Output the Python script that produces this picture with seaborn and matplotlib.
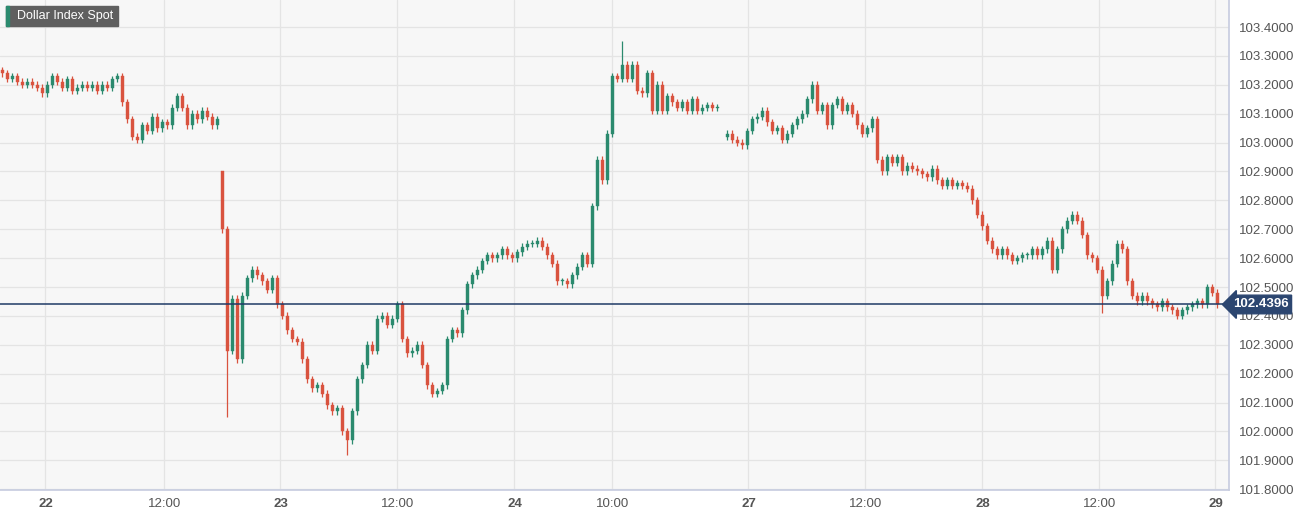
import matplotlib
matplotlib.use("Agg")
import matplotlib.pyplot as plt
import numpy as np
import pandas as pd
import seaborn as sns

# closes, one candle per 5 px slot
session1_close = [
    103.24, 103.22, 103.23, 103.21, 103.20, 103.21, 103.20, 103.19, 103.17,
    103.20, 103.23, 103.21, 103.19, 103.22, 103.18, 103.19, 103.20,
    103.19, 103.20, 103.18, 103.20, 103.19, 103.22, 103.23,
    103.14, 103.08, 103.02,
    103.01, 103.06, 103.04, 103.09, 103.05, 103.07, 103.06, 103.12,
    103.16, 103.12, 103.06, 103.10, 103.08, 103.11, 103.09, 103.06, 103.08,
]
session2_close = [
    102.70, 102.28, 102.46, 102.25, 102.47, 102.53, 102.56, 102.54, 102.52, 102.49,
    102.53, 102.44, 102.40, 102.35, 102.32, 102.31, 102.25, 102.18, 102.15, 102.16,
    102.13, 102.09, 102.07, 102.08, 102.00, 101.97, 102.07, 102.18, 102.23, 102.30,
    102.28, 102.39, 102.40, 102.37, 102.39, 102.44, 102.32, 102.27, 102.28, 102.30,
    102.23, 102.16, 102.13, 102.14, 102.16, 102.32, 102.35, 102.34, 102.42, 102.51,
    102.54, 102.56, 102.59, 102.61, 102.60, 102.61, 102.63, 102.61, 102.60, 102.62,
    102.64, 102.65, 102.65, 102.66, 102.64, 102.61, 102.58, 102.52, 102.52, 102.51,
    102.54, 102.57, 102.61, 102.58, 102.78, 102.94, 102.87, 103.03, 103.23, 103.22,
    103.27, 103.22, 103.27, 103.18, 103.17, 103.24, 103.11, 103.20, 103.11, 103.16,
    103.14, 103.12, 103.14, 103.11, 103.15, 103.11, 103.12, 103.13, 103.12, 103.12,
]
session3_close = [
    103.03, 103.01, 103.00, 102.99, 103.04, 103.08, 103.09, 103.11, 103.07, 103.04,
    103.05, 103.01, 103.03, 103.06, 103.08, 103.10, 103.15, 103.20, 103.11, 103.13,
    103.06, 103.13, 103.15, 103.11, 103.13, 103.10, 103.06, 103.03, 103.05, 103.08,
    102.94, 102.90, 102.95, 102.93, 102.95, 102.90, 102.92, 102.91, 102.90, 102.89,
    102.88, 102.91, 102.87, 102.85, 102.87, 102.85, 102.86, 102.85, 102.84, 102.80,
    102.75, 102.71, 102.66, 102.63, 102.61, 102.63, 102.61, 102.59, 102.60, 102.61,
    102.61, 102.63, 102.61, 102.63, 102.66, 102.56, 102.63, 102.70, 102.73, 102.75,
    102.73, 102.68, 102.61, 102.60, 102.56, 102.47, 102.52, 102.58, 102.65, 102.63,
    102.52, 102.47, 102.45, 102.47, 102.45, 102.44, 102.43, 102.45, 102.43, 102.42,
    102.40, 102.42, 102.43, 102.44, 102.45, 102.44, 102.50, 102.48, 102.44,
]
session_open = [103.25, 102.90, 103.02]   # first open of each session
spike_high = {124: 103.35, 44: 102.90}
spike_low = {45: 102.05, 69: 101.92, 220: 102.41}
last_price = 102.4396

tick_pos = [8.6, 32.4, 55.6, 79.0, 102.4, 122.0, 149.2, 172.6, 196.0, 219.4, 242.6]
tick_labels = ["22", "12:00", "23", "12:00", "24", "10:00", "27", "12:00", "28", "12:00", "29"]
bold_ticks = {"22", "23", "24", "27", "28", "29"}
y_ticks = [101.8, 101.9, 102.0, 102.1, 102.2, 102.3, 102.4, 102.5,
           102.6, 102.7, 102.8, 102.9, 103.0, 103.1, 103.2, 103.3, 103.4]

rows = []
slot = 0
for first_open, closes in zip(session_open, [session1_close, session2_close, session3_close]):
    prev = first_open
    for c in closes:
        rows.append({"slot": slot, "open": prev, "close": c})
        prev = c
        slot += 1
    slot += 1  # small gap between sessions
df = pd.DataFrame(rows)
# session 2 starts right after session 1
df.loc[df.slot > 43, "slot"] -= 1
w = 0.012
df["high"] = df[["open", "close"]].max(axis=1) + w
df["low"] = df[["open", "close"]].min(axis=1) - w
for s, v in spike_high.items():
    df.loc[df.slot == s, "high"] = v
for s, v in spike_low.items():
    df.loc[df.slot == s, "low"] = v
df["up"] = df.close >= df.open

green, red = "#2b8a6e", "#d9533f"
sns.set_theme(style="whitegrid", font="Liberation Sans",
              rc={"axes.facecolor": "#f7f7f7", "grid.color": "#e4e4e4"})
fig = plt.figure(figsize=(13.06, 5.17), dpi=100)
fig.patch.set_facecolor("white")
ax = fig.add_axes([0.0, 0.052, 0.941, 0.948])

colors = np.where(df.up, green, red)
ax.vlines(df.slot, df.low, df.high, colors=colors, linewidth=0.9)
body = (df.close - df.open).abs().clip(lower=0.004)
ax.bar(df.slot, body, bottom=df[["open", "close"]].min(axis=1), width=0.55,
       color=colors, edgecolor=colors, linewidth=0.3)

ax.axhline(last_price, color="#1f3a66", linewidth=1.1)
ax.set_xlim(-0.5, 245.3)
ax.set_ylim(101.797, 103.4935)
ax.set_xticks(tick_pos)
ax.set_xticklabels(tick_labels)
for t in ax.get_xticklabels():
    t.set_fontweight("bold" if t.get_text() in bold_ticks else "normal")
    t.set_color("#555555")
    t.set_fontsize(9.5)
ax.yaxis.tick_right()
ax.set_yticks(y_ticks)
ax.set_yticklabels([f"{v:.4f}" for v in y_ticks], fontsize=9.5, color="#555555")
ax.tick_params(axis="both", length=0, pad=6)
ax.tick_params(axis="y", pad=7)
for side, sp in ax.spines.items():
    sp.set_visible(side in ("right", "bottom"))
    sp.set_color("#c8cde0")
ax.grid(True, linewidth=0.9)

ax.text(1.003, (last_price - 101.797) / (103.4935 - 101.797), f"{last_price:.4f}",
        transform=ax.transAxes, va="center", ha="left", fontsize=9.5,
        fontweight="bold", color="white",
        bbox=dict(boxstyle="larrow,pad=0.25", fc="#2c4670", ec="#2c4670"))

# title box with green stripe, in figure pixels
W, H = 1306, 517
fig.patches.append(plt.Rectangle((6 / W, 1 - 26 / H), 112 / W, 20 / H,
                                 transform=fig.transFigure, color="#5f5f5f", zorder=5))
fig.patches.append(plt.Rectangle((6 / W, 1 - 26 / H), 3 / W, 20 / H,
                                 transform=fig.transFigure, color=green, zorder=6))
fig.text(17 / W, 1 - 16 / H, "Dollar Index Spot", va="center", ha="left",
         fontsize=9, color="white", zorder=7)

fig.savefig("out.png", dpi=100)
